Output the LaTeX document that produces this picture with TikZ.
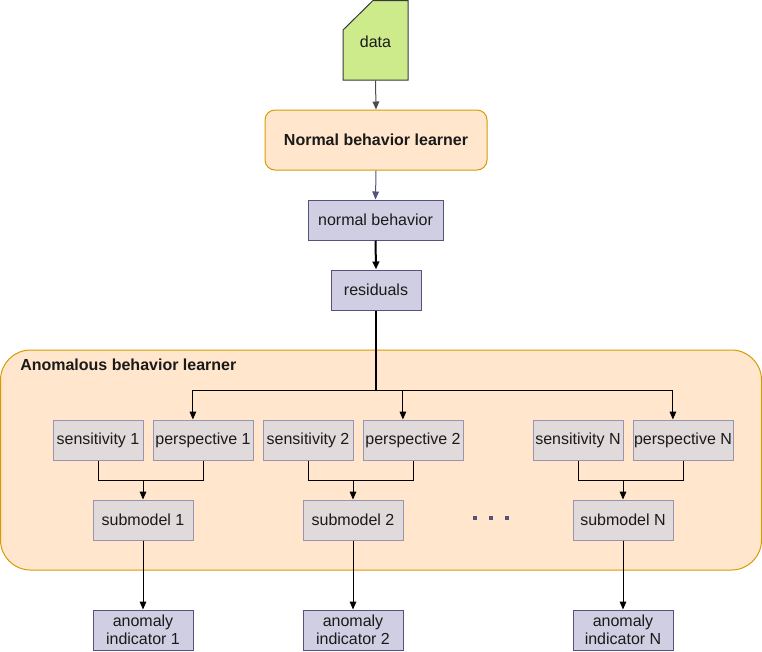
\documentclass[tikz,border=0pt]{standalone}
\usepackage{fontspec}
\setmainfont{Liberation Sans}
\usetikzlibrary{arrows.meta,calc}
\definecolor{greenf}{HTML}{CDEB8B}
\definecolor{greens}{HTML}{36393D}
\definecolor{orangef}{HTML}{FFE6CC}
\definecolor{oranges}{HTML}{D79B00}
\definecolor{purpf}{HTML}{D0CEE2}
\definecolor{purps}{HTML}{56517E}
\definecolor{grayf}{HTML}{E0DADA}
\definecolor{grays}{HTML}{9B93B3}
\definecolor{txt}{HTML}{1A1A1A}
\begin{document}
\begin{tikzpicture}[x=0.75pt,y=-0.75pt,
  every node/.style={font=\fontsize{12}{14}\selectfont,text=txt,inner sep=0pt,align=center},
  purpbox/.style={draw=purps,fill=purpf,line width=0.75pt,minimum height=30pt},
  graybox/.style={draw=grays,fill=grayf,line width=0.75pt,minimum height=30pt},
  arr/.style={-{Triangle[length=6pt,width=5pt]},line width=0.75pt,draw=black},
  ln/.style={line width=0.75pt,draw=black}]
\useasboundingbox (0,0) rectangle (762,651);
% container
\draw[fill=orangef,draw=oranges,line width=0.75pt,rounded corners=22.5pt] (0.5,350) rectangle (761.5,570);
\node[anchor=west,font=\bfseries\fontsize{12}{14}\selectfont] (abl) at (20,365) {Anomalous behavior learner};
% data
\node[minimum width=48.75pt,minimum height=60pt] (data) at (375.5,40) {};
\draw[fill=greenf,draw=greens,line width=0.75pt] (343,30) -- (373,0.5) -- (408,0.5) -- (408,80) -- (343,80) -- cycle;
\node at (375.5,42) {data};
% normal behavior learner
\node[draw=oranges,fill=orangef,line width=0.75pt,rounded corners=7.5pt,minimum width=166.5pt,minimum height=45pt,font=\bfseries\fontsize{12}{14}\selectfont] (nbl) at (376,140) {Normal behavior learner};
\node[purpbox,minimum width=101.25pt] (nb) at (375.5,220) {normal behavior};
\node[purpbox,minimum width=67.5pt] (res) at (376,290) {residuals};
% sensitivities / perspectives
\node[graybox,minimum width=67.5pt] (s1) at (98,440) {sensitivity 1};
\node[graybox,minimum width=75pt] (p1) at (203,440) {perspective 1};
\node[graybox,minimum width=67.5pt] (s2) at (308,440) {sensitivity 2};
\node[graybox,minimum width=75pt] (p2) at (413,440) {perspective 2};
\node[graybox,minimum width=67.5pt] (sN) at (578,440) {sensitivity N};
\node[graybox,minimum width=75pt] (pN) at (683,440) {perspective N};
% submodels
\node[graybox,minimum width=75pt] (sm1) at (143,520) {submodel 1};
\node[graybox,minimum width=75pt] (sm2) at (353,520) {submodel 2};
\node[graybox,minimum width=75pt] (smN) at (623,520) {submodel N};
% indicators
\node[purpbox,minimum width=75pt,font=\fontsize{12}{13.5}\selectfont] (ai1) at (143,630) {anomaly\\indicator 1};
\node[purpbox,minimum width=75pt,font=\fontsize{12}{13.5}\selectfont] (ai2) at (353,630) {anomaly\\indicator 2};
\node[purpbox,minimum width=75pt,font=\fontsize{12}{13.5}\selectfont] (aiN) at (623,630) {anomaly\\indicator N};
% dots
\foreach \x in {475,491,507}{\fill[purps] (\x-2,516) rectangle (\x+2,520);}
% edges
\draw[arr,draw=black!70] (data.south) -- (nbl.north);
\draw[arr,draw=purps] (nbl.south) -- (nb.north);
\draw[arr,line width=1.5pt] (nb.south) -- (res.north);
\coordinate (split) at (376,390);
\draw[line width=1.5pt] (res.south) -- (split);
\draw[arr] (split) -| ($(p1.north west)!0.4!(p1.north east)$);
\draw[arr] (split) -| ($(p2.north west)!0.4!(p2.north east)$);
\draw[arr] (split) -| ($(pN.north west)!0.4!(pN.north east)$);
\coordinate (m1) at (143,480);
\coordinate (m2) at (353,480);
\coordinate (mN) at (623,480);
\draw[ln] (s1.south) |- (m1) -| (p1.south);
\draw[ln] (s2.south) |- (m2) -| (p2.south);
\draw[ln] (sN.south) |- (mN) -| (pN.south);
\draw[arr] (m1) -- (sm1.north);
\draw[arr] (m2) -- (sm2.north);
\draw[arr] (mN) -- (smN.north);
\draw[arr] (sm1.south) -- (ai1.north);
\draw[arr] (sm2.south) -- (ai2.north);
\draw[arr] (smN.south) -- (aiN.north);
\end{tikzpicture}
\end{document}
